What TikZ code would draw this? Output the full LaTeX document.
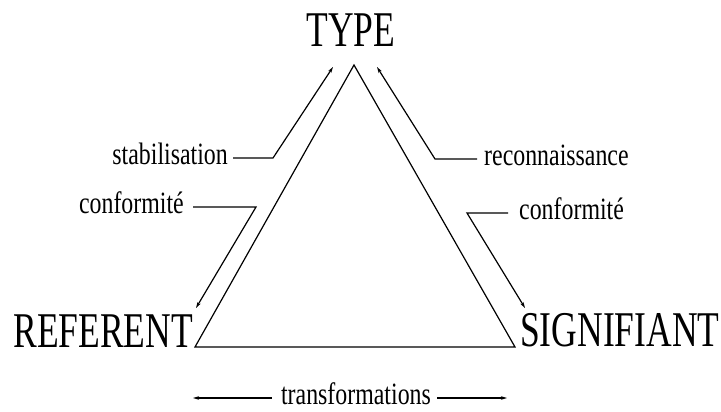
\documentclass[tikz,border=0pt]{standalone}
\usepackage{fontspec}
\setmainfont{Liberation Serif}
\newfontfamily\bigf{Liberation Serif}[FakeStretch=0.71]
\newfontfamily\smallf{Liberation Serif}[FakeStretch=0.77]
\usetikzlibrary{arrows.meta,calc}
\tikzset{
  big/.style={inner sep=0pt, font=\bigf\fontsize{50}{60}\selectfont},
  lbl/.style={inner sep=0pt, font=\smallf\fontsize{31}{37}\selectfont},
  tri/.style={line width=1.2pt, line join=miter},
  arr/.style={line width=1.2pt, -{Stealth[length=6pt,width=3.5pt]}},
}
\begin{document}
\begin{tikzpicture}[x=1pt,y=1pt]
\useasboundingbox (0,0) rectangle (721,412);
% corners of the triangle
\coordinate (A) at (354,347);
\coordinate (BL) at (195,65);
\coordinate (BR) at (515,65);
\draw[tri] (A) -- (BL) -- (BR) -- cycle;
% main labels
\node[big, anchor=base] (type) at (351,365) {TYPE};
\node[big, anchor=base east] (ref) at (193,64) {REFERENT};
\node[big, anchor=base west] (sig) at (520,65) {SIGNIFIANT};
% side labels
\node[lbl, anchor=base east] (stab) at (228,247) {stabilisation};
\node[lbl, anchor=base east] (confL) at (184,198) {conformité};
\node[lbl, anchor=base west] (reco) at (484,246) {reconnaissance};
\node[lbl, anchor=base west] (confR) at (519,192) {conformité};
\node[lbl, anchor=base] (trans) at (356,7.5) {transformations};
% arrow points
\coordinate (stabC) at (273,254);
\coordinate (typeL) at (333,345);
\coordinate (confLC) at (256,205);
\coordinate (refT) at (196,104);
\coordinate (recoC) at (435,253);
\coordinate (typeR) at (377,345);
\coordinate (confRC) at (467,199);
\coordinate (sigT) at (525,104);
\coordinate (trL) at (193,14);
\coordinate (trR) at (507,14);
% connectors
\draw[arr] ($(stabC -| stab.east)+(5,0)$) -- (stabC) -- (typeL);
\draw[arr] ($(confLC -| confL.east)+(9,0)$) -- (confLC) -- (refT);
\draw[arr] ($(recoC -| reco.west)+(-7,0)$) -- (recoC) -- (typeR);
\draw[arr] ($(confRC -| confR.west)+(-11,0)$) -- (confRC) -- (sigT);
\draw[arr] ($(trL -| trans.west)+(-9,0)$) -- (trL);
\draw[arr] ($(trR -| trans.east)+(6,0)$) -- (trR);
\end{tikzpicture}
\end{document}
